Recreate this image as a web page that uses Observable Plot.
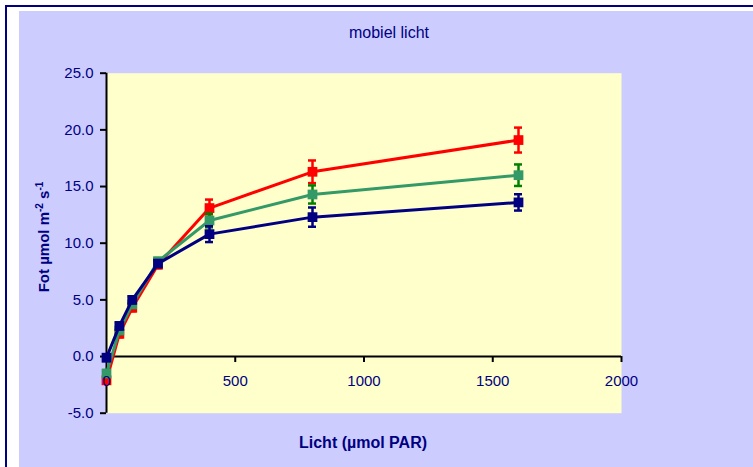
<!DOCTYPE html>
<html>
<head>
<meta charset="utf-8">
<script src="https://cdn.jsdelivr.net/npm/d3@7"></script>
<script src="https://cdn.jsdelivr.net/npm/@observablehq/plot@0.6"></script>
<style>
  html, body { margin: 0; padding: 0; background: #fff; }
  #wrap { position: relative; width: 753px; height: 467px; overflow: hidden; background: #fff;
          font-family: Arial, "Liberation Sans", sans-serif; color: #000080; }
  #frame { position: absolute; left: 5px; top: 5px; width: 900px; height: 600px;
           border-left: 2px solid #000080; border-top: 2px solid #000080; }
  #panel { position: absolute; left: 19px; top: 11px; right: 0; bottom: 0; background: #CCCCFF; }
  #chart { position: absolute; left: 0; top: 0; }
  .txt { position: absolute; white-space: nowrap; }
  #title { left: 389px; top: 33px; transform: translate(-50%, -50%); font-size: 16px; }
  #xtitle { left: 363px; top: 443px; transform: translate(-50%, -50%); font-size: 16px; font-weight: bold; }
  #ytitle { left: 43px; top: 237px; transform: translate(-50%, -50%) rotate(-90deg); font-size: 15px; font-weight: bold; }
  #ytitle sup { font-size: 10px; vertical-align: 6px; line-height: 0; }
</style>
</head>
<body>
<div id="wrap">
  <div id="frame"></div>
  <div id="panel"></div>
  <div id="chart"></div>
  <div class="txt" id="title">mobiel licht</div>
  <div class="txt" id="xtitle">Licht (µmol PAR)</div>
  <div class="txt" id="ytitle">Fot µmol m<sup>-2</sup> s<sup>-1</sup></div>
</div>
<script>
// Lichtintensiteit (µmol PAR)
const licht = [0, 50, 100, 200, 400, 800, 1600];

// Fotosynthese (µmol m-2 s-1) per reeks, met foutmarges
const fotRood  = [-2.1, 2.0, 4.3, 8.1, 13.1, 16.3, 19.1];
const sdRood   = [0.3, 0.3, 0.3, 0.3, 0.75, 1.0, 1.1];
const fotGroen = [-1.5, 2.3, 4.6, 8.4, 12.0, 14.3, 16.0];
const sdGroen  = [0.3, 0.3, 0.3, 0.3, 0.6, 0.8, 0.95];
const fotBlauw = [-0.1, 2.7, 5.0, 8.2, 10.8, 12.3, 13.6];
const sdBlauw  = [0.3, 0.3, 0.3, 0.3, 0.7, 0.85, 0.72];

// Asindeling
const xTicks = [0, 500, 1000, 1500, 2000];
const yTicks = [-5, 0, 5, 10, 15, 20, 25];

const navy = "#000080";

const reeksen = [
  {naam: "rood",  y: fotRood,  sd: sdRood,  lijn: "#FF0000", fout: "#FF0000"},
  {naam: "groen", y: fotGroen, sd: sdGroen, lijn: "#339966", fout: "#008000"},
  {naam: "blauw", y: fotBlauw, sd: sdBlauw, lijn: "#000080", fout: "#000080"}
];

function rows(r) {
  return licht.map((x, i) => ({x, y: r.y[i], lo: r.y[i] - r.sd[i], hi: r.y[i] + r.sd[i]}));
}

const serieMarks = reeksen.flatMap(r => {
  const d = rows(r);
  return [
    Plot.line(d, {x: "x", y: "y", stroke: r.lijn, strokeWidth: 3}),
    Plot.ruleX(d, {x: "x", y1: "lo", y2: "hi", stroke: r.fout, strokeWidth: 2.5}),
    Plot.ruleY(d, {y: "hi", x1: "x", x2: "x", insetLeft: -4, insetRight: -4, stroke: r.fout, strokeWidth: 2.5}),
    Plot.ruleY(d, {y: "lo", x1: "x", x2: "x", insetLeft: -4, insetRight: -4, stroke: r.fout, strokeWidth: 2.5}),
    Plot.dot(d, {x: "x", y: "y", symbol: "square", r: 5.5, fill: r.lijn, stroke: "none"})
  ];
});

const chart = Plot.plot({
  width: 753,
  height: 467,
  marginLeft: 106,
  marginRight: 132,
  marginTop: 72.7,
  marginBottom: 54.3,
  style: {background: "transparent", fontFamily: "Arial, 'Liberation Sans', sans-serif", fontSize: "15px"},
  x: {domain: [0, 2000], axis: null},
  y: {domain: [-5, 25], axis: null},
  marks: [
    Plot.frame({fill: "#FFFFCC", stroke: "none"}),
    Plot.axisY({ticks: yTicks, tickFormat: d => d.toFixed(1), tickSize: 6, tickPadding: 7,
                stroke: "black", strokeWidth: 2, color: navy, fill: navy, label: null}),
    Plot.ruleX([0], {stroke: "black", strokeWidth: 2}),
    Plot.ruleY([0], {stroke: "black", strokeWidth: 2}),
    Plot.ruleX(xTicks.filter(d => d > 0), {x: d => d, y1: 0, y2: 0, insetBottom: -6, stroke: "black", strokeWidth: 2}),
    ...serieMarks,
    Plot.text(xTicks, {x: d => d, y: 0, dy: 25, text: d => String(d), fill: navy, fontSize: 15})
  ]
});

document.getElementById("chart").appendChild(chart);
</script>
</body>
</html>
